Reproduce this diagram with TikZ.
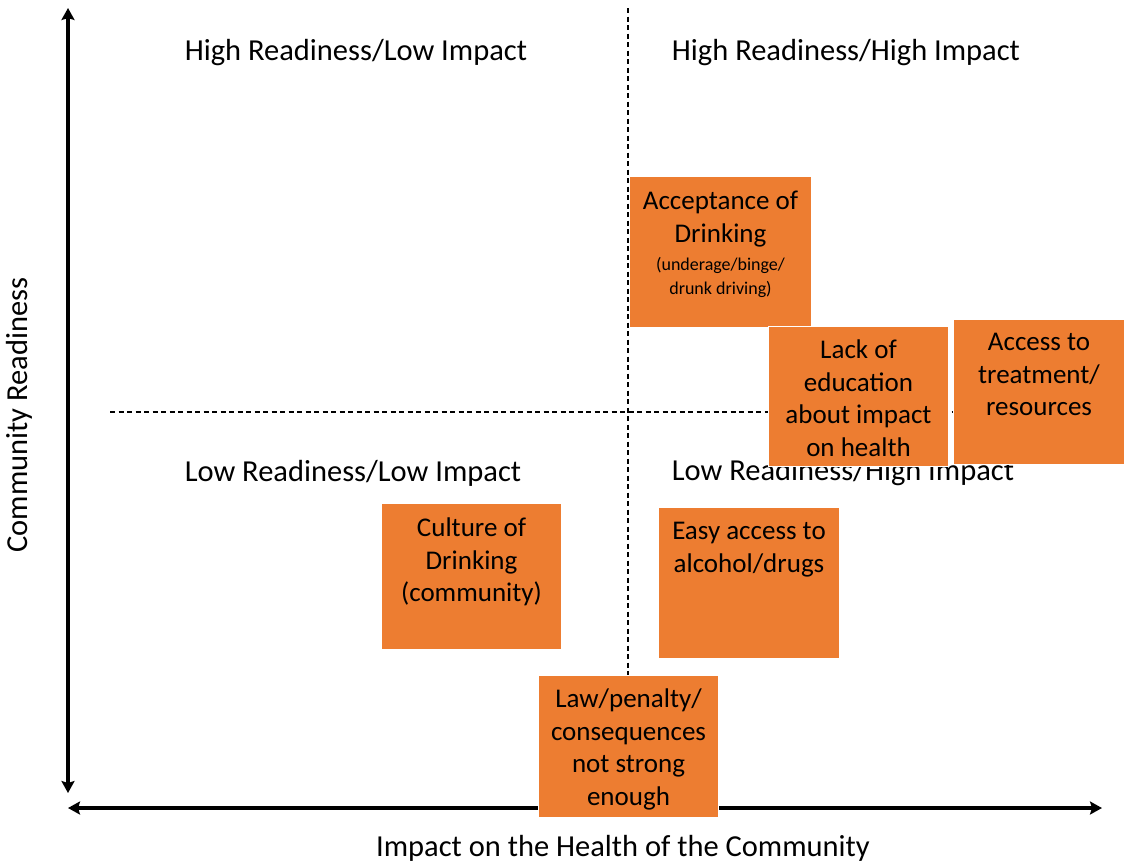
\documentclass[tikz,border=0pt]{standalone}
\usepackage{fontspec}
\setmainfont{Carlito}
\usetikzlibrary{arrows.meta}
\definecolor{boxorange}{HTML}{ED7D31}
\begin{document}
\begin{tikzpicture}[x=1pt,y=-1pt,
  axis/.style={line width=3.3pt,{Stealth[length=12pt,width=13pt,inset=2pt]}-{Stealth[length=12pt,width=13pt,inset=2pt]}},
  divider/.style={line width=1.3pt,dash pattern=on 5pt off 3.5pt},
  quad/.style={font=\fontsize{30.5}{36}\selectfont,inner sep=0pt},
  box/.style={fill=boxorange,draw=white,line width=1pt,anchor=north west,inner sep=0pt},
  boxtext/.style={font=\fontsize{27}{32.5}\selectfont,align=center,anchor=north,inner sep=0pt},
  smalltext/.style={font=\fontsize{18}{23}\selectfont}
]
\useasboundingbox (0,0) rectangle (1124,862);
% axes
\coordinate (vtop) at (68,8);
\coordinate (vbot) at (68,793);
\coordinate (hleft) at (68,808);
\coordinate (hright) at (1102,808);
\draw[axis] (vbot) -- (vtop);
\draw[axis] (hleft) -- (hright);
% dividers
\coordinate (dvt) at (628,8);
\coordinate (dvb) at (628,808);
\coordinate (dhl) at (110,412);
\coordinate (dhr) at (1100,412);
\draw[divider] (dvt) -- (dvb);
\draw[divider] (dhl) -- (dhr);
% quadrant labels
\node[quad] (q1) at (356,53) {High Readiness/Low Impact};
\node[quad] (q2) at (846,53) {High Readiness/High Impact};
\node[quad] (q3) at (353,473) {Low Readiness/Low Impact};
\node[quad] (q4) at (843,473) {Low Readiness/High Impact};
% axis labels
\node[quad,rotate=90] (ylab) at (19,415) {Community Readiness};
\node[quad] (xlab) at (623,848) {Impact on the Health of the Community};
% boxes
\node[box,minimum width=182pt,minimum height=151pt] (acc) at (629,176) {};
\node[boxtext] (acct) at ([yshift=-15pt]acc.north) {Acceptance of\\Drinking\\[-4pt]{\fontsize{18}{23}\selectfont (underage/binge/}\\[-9pt]{\fontsize{18}{23}\selectfont drunk driving)}};
\node[box,minimum width=180pt,minimum height=140pt] (lack) at (768,326) {};
\node[boxtext] (lackt) at ([yshift=-14pt]lack.north) {Lack of\\education\\about impact\\on health};
\node[box,minimum width=171pt,minimum height=145pt] (treat) at (953,319) {};
\node[boxtext] (treatt) at ([yshift=-14pt]treat.north) {Access to\\treatment/\\resources};
\node[box,minimum width=180pt,minimum height=146pt] (cult) at (381,503) {};
\node[boxtext] (cultt) at ([yshift=-15pt]cult.north) {Culture of\\Drinking\\(community)};
\node[box,minimum width=181pt,minimum height=151pt] (easy) at (658,507) {};
\node[boxtext] (easyt) at ([yshift=-15pt]easy.north) {Easy access to\\alcohol/drugs};
\node[box,minimum width=180pt,minimum height=142pt] (law) at (538,675) {};
\node[boxtext] (lawt) at ([yshift=-14pt]law.north) {Law/penalty/\\consequences\\not strong\\enough};
\end{tikzpicture}
\end{document}
